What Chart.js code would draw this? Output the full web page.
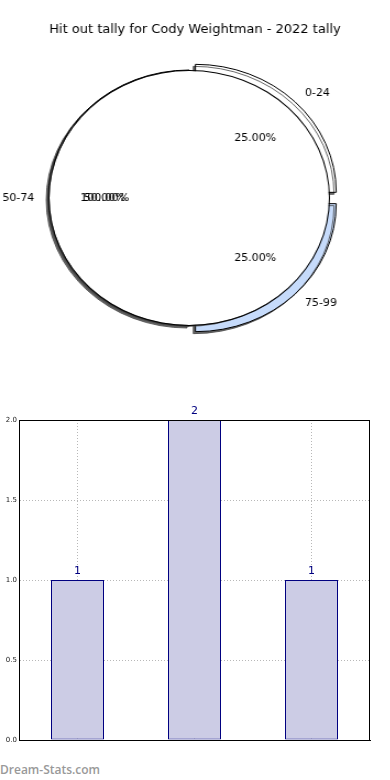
<!doctype html>
<html lang="en">
  <head>
    <meta charset="utf-8">
    <title>Hit out tally for Cody Weightman - 2022 tally</title>
    <style>
      body { margin: 0; background: #fff; }
      #page { position: relative; width: 390px; height: 780px; overflow: hidden; }
      .pie { position: absolute; left: 0; top: 0; transform: scaleX(1.1); transform-origin: 0 0; }
      #bars { position: absolute; left: 0; top: 400px; }
      #mark { position: absolute; left: 0; top: 761px; font: 600 12px "Open Sans", sans-serif; color: #999; }
    </style>
  </head>
  <body>
    <div id="page">
      <canvas id="wedges" class="pie" width="344" height="340"></canvas>
      <canvas id="disc" class="pie" width="344" height="340"></canvas>
      <canvas id="bars" width="390" height="360"></canvas>
      <div id="mark">Dream-Stats.com</div>
    </div>

    <script src="https://cdn.jsdelivr.net/npm/chart.js"></script>
    <script>
        const titleText = 'Hit out tally for Cody Weightman - 2022 tally';
        const categories = ['0-24', '50-74', '75-99'];
        const tally = [1, 2, 1];
        // matplotlib drew the 50-74 wedge a second time as a whole disc (100.00%)
        const discValues = [0, 4, 0];
        const yTicks = [0, 0.5, 1.0, 1.5, 2.0];

        const stretch = 1.1; // pie canvases are widened with css to get the ellipse
        const font = '"DejaVu Sans", sans-serif';

        const flatText = (ctx, text, x, y, align) => {
            ctx.save();
            ctx.translate(x, y);
            ctx.scale(1 / stretch, 1);
            ctx.textAlign = align;
            ctx.textBaseline = 'middle';
            ctx.fillText(text, 0, 0);
            ctx.restore();
        }

        // shadow like matplotlib's shadow=True, only on the datasets listed
        const shadow = (which) => ({
            id: 'shadow',
            beforeDatasetDraw(chart, args) {
                const ctx = chart.ctx;
                ctx.save();
                if (which.includes(args.index)) {
                    ctx.shadowColor = 'rgba(70, 70, 70, 0.8)';
                    ctx.shadowOffsetX = -2;
                    ctx.shadowOffsetY = 2;
                    ctx.shadowBlur = 0;
                }
            },
            afterDatasetDraw(chart) {
                chart.ctx.restore();
            }
        });

        // matplotlib goes counter-clockwise from 3 o'clock, so reverse for chart.js
        const rev = (a) => a.slice().reverse();

        const pieOptions = {
            responsive: false,
            animation: false,
            rotation: 90,
            radius: 128,
            layout: { padding: { top: 60, bottom: 4, left: 0, right: 0 } },
            plugins: {
                legend: { display: false },
                tooltip: { enabled: false },
                title: { display: false }
            }
        };

        const wedgeChart = new Chart(document.getElementById('wedges'), {
            type: 'pie',
            data: {
                labels: rev(categories),
                datasets: [{
                    data: rev(tally),
                    backgroundColor: rev(['#ffffff', '#ffffff', '#c6dbfb']),
                    borderColor: '#000000',
                    borderWidth: 1,
                    offset: rev([32, 0, 32]) // chart.js moves a quarter wedge by offset / 4
                }]
            },
            options: pieOptions,
            plugins: [shadow([0])]
        });

        const pieText = {
            id: 'pieText',
            afterDraw(chart) {
                const ctx = chart.ctx;
                ctx.save();
                ctx.fillStyle = '#000';
                ctx.font = '13px ' + font;
                flatText(ctx, titleText, 195 / stretch, 30, 'center');
                ctx.font = '11px ' + font;
                const r = chart.getDatasetMeta(0).controller.outerRadius;
                const sets = [
                    [wedgeChart.data.datasets[0], wedgeChart.getDatasetMeta(0), true],
                    [chart.data.datasets[1], chart.getDatasetMeta(1), false]
                ];
                sets.forEach(([ds, meta, named]) => {
                    const total = ds.data.reduce((a, b) => a + b, 0);
                    meta.data.forEach((arc, i) => {
                        const v = ds.data[i];
                        if (!v) return;
                        const mid = (arc.startAngle + arc.endAngle) / 2;
                        const off = (arc.options.offset || 0) / 4;
                        const cx = arc.x + Math.cos(mid) * off;
                        const cy = arc.y + Math.sin(mid) * off;
                        const pct = (v / total * 100).toFixed(2) + '%';
                        flatText(ctx, pct, cx + Math.cos(mid) * 0.6 * r, cy + Math.sin(mid) * 0.6 * r, 'center');
                        if (named) {
                            const lx = cx + Math.cos(mid) * 1.1 * r;
                            const ly = cy + Math.sin(mid) * 1.1 * r;
                            flatText(ctx, wedgeChart.data.labels[i], lx, ly, Math.cos(mid) > 0 ? 'left' : 'right');
                        }
                    });
                });
                ctx.restore();
            }
        };

        new Chart(document.getElementById('disc'), {
            type: 'pie',
            data: {
                labels: rev(categories),
                datasets: [
                    {
                        // edge line of the disc
                        data: rev(discValues),
                        backgroundColor: '#000000',
                        borderWidth: 0,
                        weight: 1,
                        order: 0
                    },
                    {
                        data: rev(discValues),
                        backgroundColor: '#ffffff',
                        borderWidth: 0,
                        weight: 127,
                        order: 1
                    }
                ]
            },
            options: pieOptions,
            plugins: [shadow([1]), pieText]
        });

        const barExtras = {
            id: 'barExtras',
            afterDraw(chart) {
                const ctx = chart.ctx;
                const a = chart.chartArea;
                ctx.save();
                ctx.strokeStyle = '#000';
                ctx.lineWidth = 1;
                ctx.strokeRect(Math.round(a.left) + 0.5, Math.round(a.top) + 0.5, Math.round(a.right - a.left) - 1, Math.round(a.bottom - a.top));
                ctx.fillStyle = '#000080';
                ctx.font = '11px ' + font;
                ctx.textAlign = 'center';
                ctx.textBaseline = 'bottom';
                chart.getDatasetMeta(0).data.forEach((bar, i) => {
                    ctx.fillText(String(tally[i]), bar.x, bar.y - 3);
                });
                ctx.restore();
            }
        };

        new Chart(document.getElementById('bars'), {
            type: 'bar',
            data: {
                labels: categories,
                datasets: [{
                    data: tally,
                    backgroundColor: '#ccccE5',
                    borderColor: '#000080',
                    borderWidth: 1,
                    borderSkipped: false,
                    categoryPercentage: 1,
                    barPercentage: 53 / 117
                }]
            },
            options: {
                responsive: false,
                animation: false,
                layout: { padding: { top: 20, bottom: 20, left: 0, right: 20 } },
                plugins: {
                    legend: { display: false },
                    tooltip: { enabled: false }
                },
                scales: {
                    x: {
                        z: 1,
                        offset: true,
                        grid: { offset: false, color: '#b8b8b8', drawTicks: false },
                        border: { color: '#000', dash: [1, 2] },
                        ticks: { display: false },
                        afterFit: (s) => { s.height = 0; }
                    },
                    y: {
                        z: 1,
                        min: 0,
                        max: 2,
                        grid: { color: '#b8b8b8', drawTicks: false },
                        border: { color: '#000', dash: [1, 2] },
                        ticks: {
                            padding: 2,
                            color: '#222',
                            font: { family: font, size: 7 },
                            callback: (v) => Number(v).toFixed(1)
                        },
                        afterBuildTicks: (s) => { s.ticks = yTicks.map((v) => ({ value: v })); },
                        afterFit: (s) => { s.width = 19; }
                    }
                }
            },
            plugins: [barExtras]
        });
    </script>
  </body>
</html>
